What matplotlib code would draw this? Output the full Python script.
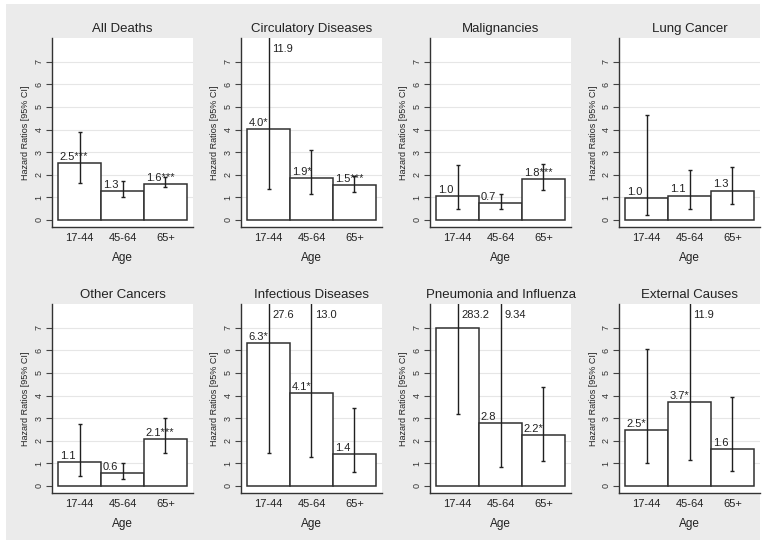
import matplotlib
matplotlib.use("Agg")
import matplotlib.pyplot as plt
from matplotlib.patches import Rectangle

plt.rcParams['font.family'] = ['Liberation Sans', 'DejaVu Sans']

titles = ["All Deaths", "Circulatory Diseases", "Malignancies", "Lung Cancer",
          "Other Cancers", "Infectious Diseases", "Pneumonia and Influenza", "External Causes"]
ages = ["17-44", "45-64", "65+"]

hr = [[2.52, 1.28, 1.60],
      [4.03, 1.86, 1.53],
      [1.04, 0.73, 1.82],
      [0.96, 1.08, 1.30],
      [1.07, 0.56, 2.07],
      [6.33, 4.13, 1.42],
      [7.00, 2.78, 2.25],
      [2.48, 3.70, 1.63]]
ci_lo = [[1.65, 1.00, 1.45],
         [1.35, 1.15, 1.25],
         [0.48, 0.48, 1.33],
         [0.20, 0.50, 0.72],
         [0.42, 0.30, 1.48],
         [1.47, 1.28, 0.60],
         [3.17, 0.82, 1.10],
         [1.00, 1.15, 0.68]]
ci_hi = [[3.90, 1.72, 1.88],
         [11.9, 3.08, 1.93],
         [2.43, 1.17, 2.47],
         [4.65, 2.22, 2.35],
         [2.75, 1.00, 3.00],
         [27.6, 13.0, 3.45],
         [283.2, 9.34, 4.40],
         [6.08, 11.9, 3.92]]
stars = [["***", "", "***"],
         ["*", "*", "***"],
         ["", "", "***"],
         ["", "", ""],
         ["", "", "***"],
         ["*", "*", ""],
         [None, "", "*"],
         ["*", "*", ""]]
hi_text = [[None, None, None],
           ["11.9", None, None],
           [None, None, None],
           [None, None, None],
           [None, None, None],
           ["27.6", "13.0", None],
           ["283.2", "9.34", None],
           [None, "11.9", None]]

W, H = 762, 542
fig = plt.figure(figsize=(W / 100, H / 100), dpi=100)
fig.patch.set_facecolor('white')
fig.add_artist(Rectangle((6 / W, 2 / H), (W - 8) / W, (H - 6) / H,
                         transform=fig.transFigure, facecolor='#ebebeb',
                         edgecolor='none', zorder=-10))

lefts = [52, 241, 430, 619]
tops = [38, 304]
ax_w, ax_h = 141, 189
YMIN, YMAX = -0.31, 8.05
x = [1, 2, 3]

for i in range(8):
    r, c = divmod(i, 4)
    L = lefts[c]
    T = tops[r]
    ax = fig.add_axes([L / W, 1 - (T + ax_h) / H, ax_w / W, ax_h / H])
    ax.set_facecolor('white')
    ax.set_xlim(0.36, 3.64)
    ax.set_ylim(YMIN, YMAX)
    for g in range(1, 8):
        ax.axhline(g, color='#e6e6e6', lw=0.8, zorder=0)
    ax.bar(x, hr[i], width=1.0, color='white', edgecolor='#303030', lw=1.1, zorder=2)
    yerr = [[hr[i][k] - ci_lo[i][k] for k in range(3)],
            [ci_hi[i][k] - hr[i][k] for k in range(3)]]
    ax.errorbar(x, hr[i], yerr=yerr, fmt='none', ecolor='#202020', elinewidth=1.0,
                capsize=1.6, capthick=1.0, zorder=3)
    for k in range(3):
        if stars[i][k] is not None:
            ax.annotate(f"{hr[i][k]:.1f}{stars[i][k]}", (x[k] - 0.5, hr[i][k]),
                        xytext=(1.2, 0.8), textcoords='offset points',
                        ha='left', va='bottom', fontsize=8, color='#222222', zorder=4)
        if hi_text[i][k] is not None:
            ax.annotate(hi_text[i][k], (x[k], YMAX), xytext=(2.8, -4),
                        textcoords='offset points', ha='left', va='top',
                        fontsize=8, color='#222222', zorder=4)
    ax.set_title(titles[i], fontsize=9.5, color='#222222', pad=4)
    ax.set_yticks(range(0, 8))
    ax.set_yticklabels([str(v) for v in range(8)], rotation=90, va='center',
                       fontsize=6.5, color='#333333')
    ax.tick_params(axis='y', length=4, width=0.8, color='#444444', pad=2)
    ax.set_xticks(x)
    ax.set_xticklabels(ages, fontsize=8, color='#222222')
    ax.tick_params(axis='x', length=0, pad=4)
    ax.set_xlabel("Age", fontsize=8.5, color='#222222', labelpad=7)
    ax.set_ylabel("Hazard Ratios [95% CI]", fontsize=6.5, color='#222222', labelpad=3)
    for s in ['top', 'right']:
        ax.spines[s].set_visible(False)
    for s in ['left', 'bottom']:
        ax.spines[s].set_color('#333333')
        ax.spines[s].set_linewidth(1.0)

fig.savefig("out.png", dpi=100, facecolor=fig.get_facecolor())
